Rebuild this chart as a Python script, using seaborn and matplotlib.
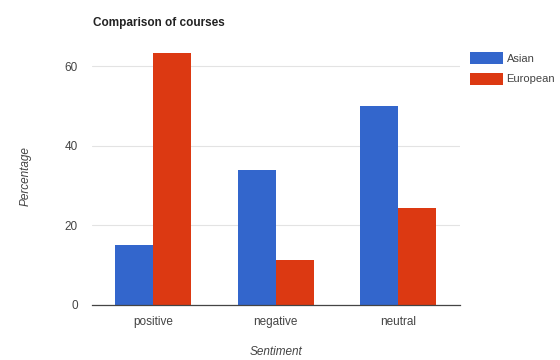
import matplotlib
matplotlib.use("Agg")
import matplotlib.pyplot as plt
import seaborn as sns
import pandas as pd
from matplotlib.patches import Patch

categories = ["positive", "negative", "neutral"]
series_names = ["Asian", "European"]
asian = [15, 34, 50]
european = [63.3, 11.3, 24.3]
yticks = [0, 20, 40, 60]
title = "Comparison of courses"
xlabel = "Sentiment"
ylabel = "Percentage"
colors = ["#3366cc", "#dc3912"]

df = pd.DataFrame({
    "Sentiment": categories * 2,
    "Course": [series_names[0]] * 3 + [series_names[1]] * 3,
    "Percentage": asian + european,
})

sns.set_theme(style="white")
plt.rcParams["font.family"] = ["Liberation Sans", "DejaVu Sans"]

fig = plt.figure(figsize=(5.6, 3.6), dpi=100)
ax = fig.add_axes([0.164, 0.153, 0.657, 0.718])
sns.barplot(data=df, x="Sentiment", y="Percentage", hue="Course",
            order=categories, hue_order=series_names, palette=colors,
            width=0.62, saturation=1, ax=ax, legend=False)
for p in ax.patches:
    p.set_edgecolor("none")

ax.set_ylim(0, 65)
ax.set_xlim(-0.5, 2.5)
ax.set_yticks(yticks)
ax.set_yticklabels([str(t) for t in yticks])
ax.yaxis.grid(True, color="#e3e3e3", linewidth=0.8)
ax.set_axisbelow(True)
for s in ["top", "right", "left"]:
    ax.spines[s].set_visible(False)
ax.spines["bottom"].set_color("#444444")
ax.spines["bottom"].set_linewidth(0.9)
ax.tick_params(axis="both", length=0, labelsize=8.5, colors="#444444")
ax.tick_params(axis="x", pad=8)
ax.tick_params(axis="y", pad=10)
ax.set_xlabel(xlabel, fontsize=8.5, style="italic", color="#444444", labelpad=13)
ax.set_ylabel(ylabel, fontsize=8.5, style="italic", color="#444444", labelpad=24)

fig.text(0.166, 0.935, title, fontsize=8.5, fontweight="bold", color="#222222",
         ha="left", va="center")

handles = [Patch(facecolor=c, edgecolor="none") for c in colors]
fig.legend(handles, series_names, loc="upper left", bbox_to_anchor=(0.84, 0.855),
           frameon=False, fontsize=8, handlelength=2.9, handleheight=1.25,
           handletextpad=0.35, labelspacing=0.8, labelcolor="#444444",
           borderaxespad=0, borderpad=0)

fig.savefig("out.png", dpi=100)
